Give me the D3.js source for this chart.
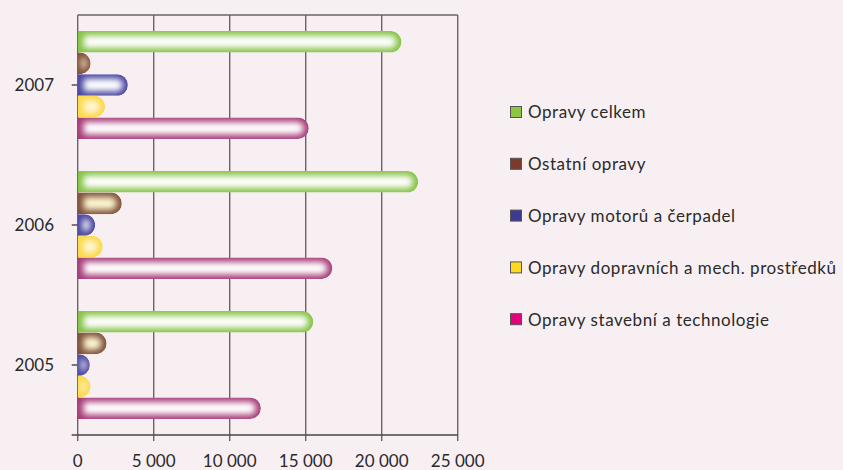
<!DOCTYPE html>
<html>
<head>
<meta charset="utf-8">
<script src="https://cdn.jsdelivr.net/npm/d3@7"></script>
<style>
html,body{margin:0;padding:0;background:#f8eff3;}
svg{display:block;}
</style>
</head>
<body>
<svg id="chart" width="843" height="470"></svg>
<script>
// ---- data ----
const categories = ["2007", "2006", "2005"];
const seriesNames = [
  "Opravy celkem",
  "Ostatní opravy",
  "Opravy motorů a čerpadel",
  "Opravy dopravních a mech. prostředků",
  "Opravy stavební a technologie"
];
const opravyCelkem   = [21300, 22400, 15500];
const ostatniOpravy  = [850, 2900, 1900];
const opravyMotoru   = [3300, 1150, 800];
const opravyDopravni = [1800, 1650, 850];
const opravyStavebni = [15200, 16750, 12050];
const xTicks = [0, 5000, 10000, 15000, 20000, 25000];
const xTickLabels = ["0", "5 000", "10 000", "15 000", "20 000", "25 000"];

(function () {
const seriesValues = [opravyCelkem, ostatniOpravy, opravyMotoru, opravyDopravni, opravyStavebni];
const legendColors = ["#8dc63f", "#7b3a2a", "#3c3a94", "#ffd91f", "#e5007d"];
const barEdge  = ["#84c244", "#80503a", "#4a46a0", "#fcd84a", "#a63c78"];
const barInner = ["#ffffff", "#fbf6cf", "#ffffff", "#fff8d8", "#ffffff"];

const svg = d3.select("#chart");
const W = 843, H = 470;
const pLeft = 77.7, pRight = 457.7, pTop = 15, pBottom = 435;
const font = "Lato, 'DejaVu Sans', sans-serif";

const x = d3.scaleLinear().domain([0, 25000]).range([pLeft, pRight]);
const y0 = d3.scaleBand().domain(categories).range([pTop, pBottom]).paddingInner(0.2286).paddingOuter(0.1143);
const y1 = d3.scaleBand().domain(seriesNames).range([0, y0.bandwidth()]);

const defs = svg.append("defs");
defs.append("filter").attr("id", "blur").attr("filterUnits", "userSpaceOnUse")
  .attr("x", 0).attr("y", 0).attr("width", W).attr("height", H)
  .append("feGaussianBlur").attr("stdDeviation", 3);

// gridlines
svg.append("g").selectAll("line").data(xTicks).join("line")
  .attr("x1", d => x(d)).attr("x2", d => x(d))
  .attr("y1", pTop).attr("y2", pBottom + 6)
  .attr("stroke", "#6a6466").attr("stroke-width", 1.4);
// top border
svg.append("line").attr("x1", pLeft).attr("x2", pRight).attr("y1", pTop).attr("y2", pTop)
  .attr("stroke", "#6a6466").attr("stroke-width", 1.4);
// bottom axis line
svg.append("line").attr("x1", pLeft - 6).attr("x2", pRight).attr("y1", pBottom).attr("y2", pBottom)
  .attr("stroke", "#4a4446").attr("stroke-width", 1.4);
// category ticks
svg.append("g").selectAll("line").data(categories).join("line")
  .attr("x1", pLeft - 6).attr("x2", pLeft)
  .attr("y1", d => y0(d) + y0.bandwidth() / 2).attr("y2", d => y0(d) + y0.bandwidth() / 2)
  .attr("stroke", "#4a4446").attr("stroke-width", 1.4);

function barPath(x0, x1, yt, h) {
  const w = Math.max(0, x1 - x0);
  const ry = h / 2;
  const rx = Math.min(ry, w);
  const xs = x1 - rx;
  return `M${x0},${yt} L${xs},${yt} A${rx},${ry} 0 0 1 ${xs},${yt + h} L${x0},${yt + h} Z`;
}

// bars
const gBars = svg.append("g");
let idc = 0;
categories.forEach((cat, ci) => {
  seriesNames.forEach((s, si) => {
    const v = seriesValues[si][ci];
    const yt = y0(cat) + y1(s);
    const h = y1.bandwidth();
    const x0 = x(0), x1v = x(v);
    const id = "clip" + (idc++);
    defs.append("clipPath").attr("id", id).append("path").attr("d", barPath(x0, x1v, yt, h));
    const g = gBars.append("g").attr("clip-path", `url(#${id})`);
    g.append("path").attr("d", barPath(x0, x1v, yt, h)).attr("fill", barEdge[si]);
    const ins = 4.5;
    const w = x1v - x0;
    const ix0 = x0 + Math.min(6, w * 0.3);
    const ix1 = x1v - Math.min(5, w * 0.3);
    g.append("path").attr("d", barPath(ix0, Math.max(ix0, ix1), yt + ins, h - 2 * ins))
      .attr("fill", barInner[si]).attr("filter", "url(#blur)");
  });
});

// y labels
svg.append("g").selectAll("text").data(categories).join("text")
  .attr("x", 54).attr("y", d => y0(d) + y0.bandwidth() / 2)
  .attr("dy", "0.36em").attr("text-anchor", "end")
  .attr("font-family", font).attr("font-size", 17).attr("fill", "#2a2a2a")
  .text(d => d);

// x labels
svg.append("g").selectAll("text").data(xTicks).join("text")
  .attr("x", d => x(d)).attr("y", 467)
  .attr("text-anchor", "middle")
  .attr("font-family", font).attr("font-size", 17).attr("fill", "#2a2a2a")
  .text((d, i) => xTickLabels[i]);

// legend
const lg = svg.append("g").selectAll("g").data(seriesNames).join("g")
  .attr("transform", (d, i) => `translate(510, ${112.5 + i * 51.8})`);
lg.append("rect").attr("x", 0.5).attr("y", -6).attr("width", 11).attr("height", 11)
  .attr("fill", (d, i) => legendColors[i]).attr("stroke", "#555").attr("stroke-width", 1);
lg.append("text").attr("x", 18).attr("y", 0).attr("dy", "0.35em")
  .attr("font-family", font).attr("font-size", 17).attr("letter-spacing", 0.55).attr("fill", "#2a2a2a")
  .text(d => d);
})();
</script>
</body>
</html>
